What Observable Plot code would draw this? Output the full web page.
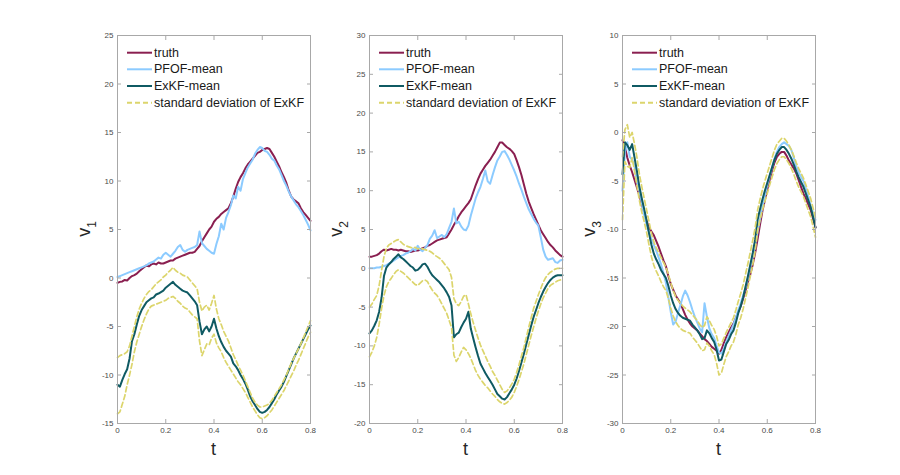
<!DOCTYPE html>
<html><head><meta charset="utf-8">
<script src="https://cdn.jsdelivr.net/npm/d3@7"></script>
<script src="https://cdn.jsdelivr.net/npm/@observablehq/plot@0.6"></script>
<style>
body{margin:0;background:#fff}
#wrap{position:relative;width:900px;height:475px;background:#fff}
#wrap svg{position:absolute;top:0}
</style>
</head><body><div id="wrap"></div>
<script>
const t = [0,0.01,0.02,0.03,0.04,0.05,0.06,0.07,0.08,0.09,0.1,0.11,0.12,0.13,0.14,0.15,0.16,0.17,0.18,0.19,0.2,0.21,0.22,0.23,0.24,0.25,0.26,0.27,0.28,0.29,0.3,0.31,0.32,0.33,0.34,0.35,0.36,0.37,0.38,0.39,0.4,0.41,0.42,0.43,0.44,0.45,0.46,0.47,0.48,0.49,0.5,0.51,0.52,0.53,0.54,0.55,0.56,0.57,0.58,0.59,0.6,0.61,0.62,0.63,0.64,0.65,0.66,0.67,0.68,0.69,0.7,0.71,0.72,0.73,0.74,0.75,0.76,0.77,0.78,0.79,0.8];

const legendLabels = ["truth","PFOF-mean","ExKF-mean","standard deviation of ExKF"];
const xTicks = [0,0.2,0.4,0.6,0.8];
const yTicks1 = [-15,-10,-5,0,5,10,15,20,25];
const yTicks2 = [-20,-15,-10,-5,0,5,10,15,20,25,30];
const yTicks3 = [-30,-25,-20,-15,-10,-5,0,5,10];

// panel 1 (v1)
const truth1 = [-0.5,-0.4,-0.35,-0.2,-0.25,0,0.2,0.3,0.45,0.7,0.9,1.1,1.3,1.2,1.4,1.5,1.4,1.6,1.5,1.5,1.6,1.7,1.8,1.8,2,2.1,2.2,2.3,2.4,2.5,2.6,2.6,2.7,3,3.3,3.8,4.2,4.6,5,5.3,5.8,6.1,6.3,6.6,6.8,7,7.2,7.7,8.4,9.2,9.9,10.4,10.8,11.3,11.7,12,12.3,12.6,12.9,13,13.2,13.3,13.4,13.3,12.9,12.5,12,11.5,10.9,10.4,9.8,9,8.4,8.1,7.9,7.7,7.2,6.8,6.5,6.2,5.9];
const pfof1 = [0.1,0.2,0.3,0.4,0.5,0.6,0.7,0.8,0.9,1,1.1,1.2,1.3,1.5,1.6,1.7,1.9,2.1,2,2.4,2.6,2.4,2.2,2.5,2.8,3.2,3.4,2.9,2.7,2.9,3,3.1,3.2,3.4,4.8,3.6,3.3,3,2.8,2.6,2.5,3.5,4.3,5.6,5,6.2,6.8,7.5,8.5,8.2,9.4,9,10.2,10.8,11.4,11.8,12.2,12.8,13.2,13.5,13.4,13.1,13,12.7,12.3,12.1,11.6,11.2,10.6,10,9.5,8.9,8.4,8,7.6,7.3,6.9,6.5,6,5.5,4.9];
const exkf1 = [-11,-11.2,-10.5,-9.9,-9.4,-8.3,-6.5,-5.8,-4.8,-3.9,-3.3,-2.9,-2.5,-2.3,-2.1,-2,-1.7,-1.6,-1.45,-1.3,-1,-0.8,-0.6,-0.4,-0.7,-0.9,-1.1,-1.3,-1.4,-1.5,-1.8,-2.1,-2.4,-2.8,-4.5,-5.8,-5.3,-5,-5.5,-5,-4.2,-5.2,-6,-6.6,-7.1,-7.5,-7.8,-8.1,-8.8,-9.1,-9.5,-10,-10.4,-10.9,-11.5,-12.2,-12.7,-13.1,-13.5,-13.8,-13.9,-13.8,-13.6,-13.3,-12.9,-12.5,-12,-11.6,-11.2,-10.7,-10.1,-9.5,-8.9,-8.3,-7.8,-7.3,-6.8,-6.3,-5.8,-5.3,-4.9];
const upper1 = [-8.2,-8,-7.9,-7.8,-7.6,-7,-6,-5,-4,-3.2,-2.6,-2.1,-1.7,-1.4,-1.2,-0.9,-0.6,-0.4,-0.2,0.1,0.3,0.6,0.8,1.1,0.8,0.6,0.5,0.3,0.2,0.1,-0.2,-0.5,-0.8,-1.1,-2.5,-3.4,-3,-2.8,-3.3,-2.6,-1.8,-3.2,-4.2,-4.8,-5.5,-6,-6.5,-7.2,-7.9,-8.4,-9,-9.5,-10,-10.6,-11.2,-11.8,-12.4,-12.8,-13.1,-13.3,-13.3,-13.2,-13.1,-12.9,-12.6,-12.2,-11.8,-11.4,-11,-10.5,-10,-9.4,-8.8,-8.3,-7.8,-7.3,-6.8,-6.2,-5.6,-5,-4.4];
const lower1 = [-14,-13.8,-13,-12.2,-11,-10,-8.9,-7.6,-6.6,-5.8,-5,-4.3,-3.7,-3.2,-2.9,-2.8,-2.7,-2.6,-2.5,-2.4,-2.3,-2.1,-2,-1.9,-2.1,-2.4,-2.6,-2.9,-3.1,-3.2,-3.5,-3.8,-4,-4.2,-6.5,-8,-7.4,-6.8,-6.9,-6.2,-5.8,-6.7,-7.2,-7.6,-8.2,-8.7,-9.1,-9.5,-9.9,-10.3,-10.7,-11,-11.4,-11.8,-12.3,-12.8,-13.3,-13.7,-14.1,-14.4,-14.5,-14.4,-14.2,-13.9,-13.6,-13.2,-12.8,-12.4,-12,-11.6,-11.1,-10.6,-10.1,-9.6,-9,-8.5,-7.9,-7.3,-6.7,-6.1,-5.6];

// panel 2 (v2)
const truth2 = [1.5,1.5,1.6,1.7,1.9,2.2,2.4,2.3,2.4,2.5,2.4,2.4,2.3,2.4,2.3,2.2,2.2,2.1,2.2,2.3,2.3,2.4,2.6,2.7,2.9,3,3.2,3.4,3.6,3.7,3.8,3.9,4,4.5,5,5.6,6.1,6.7,7.2,7.6,8,8.4,8.9,9.8,10.7,11.5,12.2,12.7,13.2,13.6,14,14.5,15,15.6,16.2,16.2,15.9,15.6,15.4,15.1,14.7,13.9,13,12,10.8,9.6,8.6,7.8,7,6.3,5.6,4.9,4.4,3.9,3.4,3,2.7,2.3,2,1.7,1.5];
const pfof2 = [0,0,0,0.1,0.1,0.2,0.3,0.4,0.6,0.8,1,1.2,1.4,1.6,1.7,1.9,2,2.2,2.5,2.3,2.9,2.4,2.2,2.6,3,3.8,4.2,4.9,3.9,4.1,4.3,4,4.4,5.2,6,7.7,5.8,6,5.4,5,4.9,5.5,6.8,7.9,9,9.8,10.5,11.5,12.6,11.2,10.9,12,13,13.9,14.4,15,15.1,14.6,14,13.3,12.6,11.8,10.9,10.1,9.2,8.4,7.6,7,6.4,5.9,5.5,4,2.4,1.5,1.1,1.2,1.3,0.8,0.7,1,1.1];
const exkf2 = [-8.4,-8,-7.4,-6.7,-5.6,-3.8,-1,0.1,0.5,0.8,1.2,1.5,1.8,1.4,1.2,0.9,0.6,0.3,0.1,-0.3,-0.2,0.1,0.5,0.6,0.2,-0.4,-0.9,-1.2,-1.5,-1.8,-2.2,-2.6,-3.1,-3.7,-4.8,-8.9,-8.5,-8.3,-7.6,-7,-6.5,-5.6,-7.8,-9,-10.2,-11.3,-12.3,-12.9,-13.5,-14,-14.5,-15,-15.6,-16.2,-16.5,-16.8,-16.9,-16.6,-16.1,-15.6,-15,-14.2,-13.2,-12.1,-11,-9.8,-8.6,-7.4,-6.3,-5.4,-4.5,-3.7,-3,-2.4,-1.9,-1.5,-1.2,-1,-0.9,-0.9,-0.9];
const upper2 = [-5,-4.6,-4,-3.5,-2.2,-0.3,1.5,2.6,3,3.2,3.4,3.6,3.7,3.4,3.1,2.9,2.8,2.7,2.6,2.7,2.5,2.6,2.5,2.4,2.3,2.2,2,1.7,1.5,1.3,1,0.6,0.2,-0.2,-1.2,-3.9,-4.6,-4.8,-4.3,-3.6,-3.4,-4.6,-5.9,-7,-8,-9,-9.9,-10.6,-11.3,-12,-12.6,-13.3,-13.8,-14.4,-15,-15.6,-16,-15.8,-15.4,-14.9,-14.3,-13.4,-12.4,-11.3,-10.2,-8.9,-7.6,-6.4,-5.2,-4.3,-3.4,-2.6,-1.8,-1.2,-0.8,-0.5,-0.3,-0.1,0,0,0];
const lower2 = [-11.4,-10.8,-10,-8.9,-7.2,-5.2,-3.5,-2.4,-1.7,-1.3,-0.8,-0.4,-0.2,-0.4,-0.6,-0.9,-1.2,-1.5,-1.8,-2.1,-2.2,-1.9,-1.6,-1.5,-1.7,-2.3,-2.8,-3.2,-3.5,-4,-4.6,-5.2,-5.8,-6.7,-7.6,-11.2,-12,-11.5,-10.8,-10.2,-10.5,-11,-11.6,-12.4,-13.2,-13.8,-14.3,-14.7,-15.1,-15.4,-15.8,-16.2,-16.5,-16.9,-17.2,-17.4,-17.5,-17.3,-17,-16.6,-16,-15.2,-14.3,-13.3,-12.3,-11.1,-9.9,-8.7,-7.6,-6.5,-5.5,-4.6,-3.8,-3.2,-2.6,-2.2,-2,-1.8,-1.6,-1.5,-1.5];

// panel 3 (v3)
const truth3 = [-0.8,-1.5,-2.6,-3.4,-4.1,-4.9,-5.7,-6.5,-7.4,-8.3,-9.1,-9.8,-10.2,-10.6,-11.2,-11.8,-12.5,-13.2,-13.8,-14.8,-15.6,-16.2,-16.8,-17.2,-17.6,-18.2,-18.8,-19.3,-19.7,-20,-20.2,-20.4,-20.7,-21,-21.3,-21.5,-21.8,-22.1,-22.3,-22.5,-22.8,-22.4,-21.7,-21.1,-20.6,-20.1,-19.7,-19.1,-18.5,-17.9,-17.1,-16.3,-15.4,-14.6,-13.6,-12.4,-11,-9.5,-8.1,-7,-5.9,-4.9,-3.9,-3.1,-2.5,-2.2,-2,-2,-2.4,-2.9,-3.3,-3.7,-4.2,-4.9,-5.6,-6.3,-6.8,-7.4,-8,-8.9,-9.8];
const pfof3 = [-6,-2,-1,-2.5,-2.8,-3.5,-5,-6,-7.2,-8.5,-9.5,-10.3,-11,-11.6,-12.2,-12.9,-13.6,-14.5,-15.5,-17,-18.5,-19.8,-19.5,-18.6,-17.8,-16.9,-16.3,-16.8,-17.5,-18.3,-19,-19.6,-20.2,-20.6,-17.6,-19,-20.2,-20.8,-21.2,-22,-22.7,-22.8,-22.3,-21.6,-21,-20.4,-19.8,-19.1,-18.3,-17.6,-16.8,-16,-15,-13.8,-12.8,-11.5,-10.2,-8.9,-7.6,-6.5,-5.4,-4.5,-3.6,-2.7,-2,-1.5,-1.2,-1,-1.2,-1.4,-1.8,-2.6,-3.5,-4.1,-4.6,-5,-5.8,-6.6,-7.5,-8.3,-9];
const exkf3 = [-4.3,-1,-1.3,-1.8,-1.2,-2.6,-4,-5.6,-6.8,-7.9,-9.1,-10.4,-11.6,-12.5,-13.1,-13.6,-14.2,-14.6,-15,-15.8,-16.8,-17.6,-18.2,-18.6,-18.9,-19.1,-19.2,-19.3,-19.4,-19.8,-20.1,-20.4,-20.8,-21.3,-21.2,-20.4,-20.7,-21.2,-21.6,-22.4,-23.5,-23.4,-22.6,-21.8,-21.4,-20.8,-20.4,-19.6,-18.6,-17.9,-17,-15.9,-14.8,-13.6,-12.4,-11,-9,-7.9,-6.9,-6,-5.2,-4.4,-3.6,-2.8,-2.2,-1.8,-1.5,-1.5,-1.8,-2.2,-2.7,-3.3,-4,-4.6,-5.1,-5.6,-6.3,-7,-7.7,-8.7,-9.8];
const upper3 = [-2.5,0.3,0.8,-0.5,0,-1.2,-2.6,-4.3,-5.6,-6.8,-8,-9.2,-10.4,-11.3,-11.9,-12.4,-12.9,-13.4,-13.9,-14.6,-15.5,-16.3,-16.9,-17.3,-17.6,-17.9,-18.1,-18.3,-18.5,-18.8,-19.1,-19.4,-19.8,-20.1,-19.9,-19,-19.4,-19.9,-20.3,-21,-22,-21.8,-21.2,-20.6,-20.1,-19.6,-19.1,-18.3,-17.4,-16.6,-15.7,-14.6,-13.5,-12.3,-11.1,-9.8,-8,-6.9,-5.9,-5,-4.2,-3.4,-2.6,-1.8,-1.2,-0.9,-0.6,-0.6,-0.9,-1.3,-1.8,-2.4,-3.1,-3.7,-4.2,-4.7,-5.4,-6.1,-6.8,-7.8,-8.8];
const lower3 = [-9,-3,-3.5,-3.6,-2.6,-4,-5.5,-7,-8.2,-9.2,-10.3,-11.6,-12.8,-13.7,-14.3,-14.8,-15.4,-15.9,-16.3,-17.1,-18.1,-18.9,-19.5,-19.9,-20.2,-20.4,-20.5,-20.6,-20.7,-21.1,-21.4,-21.7,-22.1,-22.5,-22.4,-21.7,-22,-22.5,-22.9,-23.8,-25,-24.8,-23.9,-23.1,-22.6,-22,-21.6,-20.8,-19.8,-19.1,-18.2,-17.1,-16,-14.8,-13.6,-12.2,-10.1,-9,-8,-7.1,-6.3,-5.4,-4.6,-3.8,-3.2,-2.8,-2.5,-2.5,-2.8,-3.2,-3.7,-4.3,-5,-5.6,-6.1,-6.6,-7.3,-8,-8.7,-9.7,-10.8];

const colors = {truth:"#8a1f50", pfof:"#8ccbff", exkf:"#0f5a63", std:"#dcd56c"};
const axisColor = "#a8a8a8";
const FONT = "'Liberation Sans', Arial, Helvetica, sans-serif";

const panels = [
  {left:67, sub:"1", ticks:yTicks1, domain:[-15,25], truth:truth1, pfof:pfof1, exkf:exkf1, up:upper1, lo:lower1},
  {left:319, sub:"2", ticks:yTicks2, domain:[-20,30], truth:truth2, pfof:pfof2, exkf:exkf2, up:upper2, lo:lower2},
  {left:572, sub:"3", ticks:yTicks3, domain:[-30,10], truth:truth3, pfof:pfof3, exkf:exkf3, up:upper3, lo:lower3}
];

const W = 300, H = 475, ML = 50, MR = 57, MT = 35, MB = 52;
const wrap = document.getElementById("wrap");

for (const p of panels) {
  const rows = t.map((tt, i) => ({t: tt, truth: p.truth[i], pfof: p.pfof[i], exkf: p.exkf[i], up: p.up[i], lo: p.lo[i]}));
  const chart = Plot.plot({
    width: W, height: H,
    marginLeft: ML, marginRight: MR, marginTop: MT, marginBottom: MB,
    x: {domain: [0, 0.8], label: null},
    y: {domain: p.domain, label: null},
    style: {fontFamily: FONT, background: "white", overflow: "visible"},
    marks: [
      Plot.line(rows, {x: "t", y: "truth", stroke: colors.truth, strokeWidth: 2}),
      Plot.line(rows, {x: "t", y: "pfof", stroke: colors.pfof, strokeWidth: 2}),
      Plot.line(rows, {x: "t", y: "exkf", stroke: colors.exkf, strokeWidth: 2}),
      Plot.line(rows, {x: "t", y: "up", stroke: colors.std, strokeWidth: 1.7, strokeDasharray: "5,3"}),
      Plot.line(rows, {x: "t", y: "lo", stroke: colors.std, strokeWidth: 1.7, strokeDasharray: "5,3"}),
      Plot.frame({stroke: axisColor, strokeWidth: 1}),
      Plot.axisY(p.ticks, {anchor: "left", tickSize: -4, tickPadding: 8, fontSize: 8, stroke: axisColor, fill: "#4a4a4a", label: null, tickFormat: d => String(d)}),
      Plot.axisY(p.ticks, {anchor: "right", tickSize: -4, stroke: axisColor, label: null, tickFormat: () => ""}),
      Plot.axisX(xTicks, {anchor: "bottom", tickSize: -4, tickPadding: 8, fontSize: 8, stroke: axisColor, fill: "#4a4a4a", label: null, tickFormat: d => String(d)}),
      Plot.axisX(xTicks, {anchor: "top", tickSize: -4, stroke: axisColor, label: null, tickFormat: () => ""})
    ]
  });
  chart.style.left = p.left + "px";
  wrap.appendChild(chart);

  const svg = d3.select(chart);
  const fw = W - ML - MR;
  // axis labels
  svg.append("text")
    .attr("x", ML + fw / 2).attr("y", 455)
    .attr("text-anchor", "middle").attr("font-size", 18).attr("fill", "#262626")
    .attr("font-family", FONT).text("t");
  const yl = svg.append("text")
    .attr("transform", `translate(${ML - 27},${MT + (H - MT - MB) / 2}) rotate(-90)`)
    .attr("text-anchor", "middle").attr("font-size", 18).attr("fill", "#262626")
    .attr("font-family", FONT);
  yl.append("tspan").text("v");
  yl.append("tspan").attr("font-size", 12).attr("dy", 6).text(p.sub);

  // legend
  const lg = svg.append("g").attr("font-family", FONT).attr("font-size", 12.5).attr("text-anchor", "start");
  const rowY = [52.7, 69.3, 86, 102.7];
  const styles = [
    {c: colors.truth, dash: null},
    {c: colors.pfof, dash: null},
    {c: colors.exkf, dash: null},
    {c: colors.std, dash: "5,3"}
  ];
  legendLabels.forEach((lab, i) => {
    lg.append("line").attr("x1", ML + 10).attr("x2", ML + 35)
      .attr("y1", rowY[i]).attr("y2", rowY[i])
      .attr("stroke", styles[i].c).attr("stroke-width", 2)
      .attr("stroke-dasharray", styles[i].dash);
    lg.append("text").attr("x", ML + 37).attr("y", rowY[i])
      .attr("text-anchor", "start")
      .attr("dominant-baseline", "central").attr("fill", "#1a1a1a").text(lab);
  });
}
</script>
</body></html>
